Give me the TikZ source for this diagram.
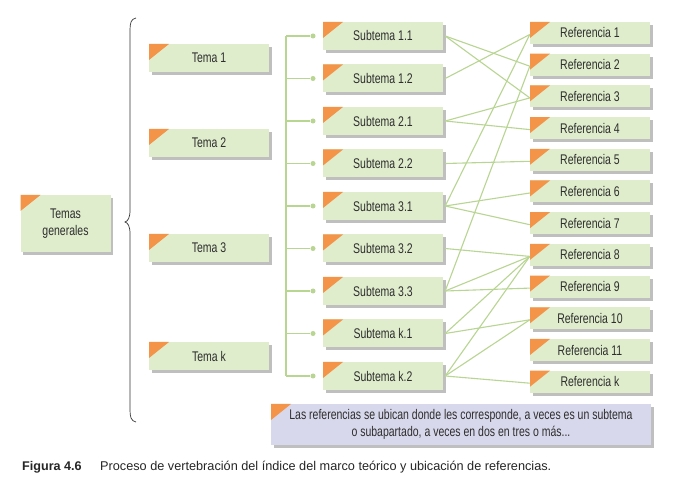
\documentclass[tikz,border=0pt]{standalone}
\usepackage{fontspec}
\setmainfont{Liberation Sans}[FakeStretch=0.75]
\newfontfamily\capfont{Liberation Sans}
\usetikzlibrary{shadows}
\definecolor{boxgreen}{HTML}{DFEDCC}
\definecolor{boxlav}{HTML}{D8D8EC}
\definecolor{tri}{HTML}{F39449}
\definecolor{lgreen}{HTML}{B9D592}
\definecolor{txt}{HTML}{2E2E2E}
\begin{document}
\begin{tikzpicture}[x=1pt,y=-1pt,
  every node/.style={text=txt, font=\fontsize{14}{15}\selectfont},
  card/.style={fill=boxgreen, inner sep=0pt, align=center,
    drop shadow={shadow xshift=2.5pt, shadow yshift=-3pt, fill=black, opacity=0.25},
    path picture={\fill[tri] (path picture bounding box.north west) -- ++(20pt,0pt) -- ++(-20pt,-16pt) -- cycle;}},
  tema/.style={card, minimum width=120pt, minimum height=28pt},
  sub/.style={card, minimum width=120pt, minimum height=28pt},
  refb/.style={card, minimum width=120pt, minimum height=22pt},
  link/.style={draw=lgreen, line width=1.3pt},
  conn/.style={draw=lgreen, line width=1.1pt},
  dot/.style={circle, fill=lgreen, inner sep=0pt, minimum size=5pt}]
\useasboundingbox (0,0) rectangle (680,502);
\fill[white] (0,0) rectangle (680,502);

% main node
\node[card, minimum width=90pt, minimum height=57pt, font=\fontsize{14}{17}\selectfont] (tg) at (65.5,223.5) {Temas\\generales};

% brace
\draw[black!80, line width=0.7pt] (136,18) .. controls (131,19) and (130,23) .. (130,30)
  -- (130,210) .. controls (130,218) and (128,221) .. (125,222)
  .. controls (128,223) and (130,226) .. (130,234)
  -- (130,410) .. controls (130,417) and (131,421) .. (136,422);

% temas
\node[tema] (t1) at (209,58) {Tema 1};
\node[tema] (t2) at (209,143) {Tema 2};
\node[tema] (t3) at (209,248) {Tema 3};
\node[tema] (tk) at (209,356) {Tema k};

% subtemas
\foreach \n/\lab [count=\i from 0] in {s11/Subtema 1.1, s12/Subtema 1.2, s21/Subtema 2.1, s22/Subtema 2.2, s31/Subtema 3.1, s32/Subtema 3.2, s33/Subtema 3.3, sk1/Subtema k.1, sk2/Subtema k.2}{
  \node[sub] (\n) at (383,{36+42.5*\i}) {\lab};
  \node[dot] (d\n) at (313,{36+42.5*\i}) {};
}
\coordinate (ttop) at (286,36);
\coordinate (tbot) at (286,376);
\draw[link] (ttop) -- (tbot);
\foreach \n in {s11,s12,s21,s22,s31,s32,s33,sk1,sk2}{
  \draw[link] (d\n) -- (d\n -| ttop);
}

% referencias
\foreach \n/\lab [count=\i from 0] in {r1/Referencia 1, r2/Referencia 2, r3/Referencia 3, r4/Referencia 4, r5/Referencia 5, r6/Referencia 6, r7/Referencia 7, r8/Referencia 8, r9/Referencia 9, r10/Referencia 10, r11/Referencia 11, rk/Referencia k}{
  \node[refb] (\n) at (590,{33+31.7*\i}) {\lab};
}

% connections
\foreach \a/\b in {s11/r2, s11/r3, s12/r1, s21/r3, s21/r4, s22/r5, s31/r1, s31/r6, s31/r7, s32/r8, s33/r2, s33/r8, s33/r9, sk1/r8, sk1/r10, sk2/r8, sk2/r10, sk2/rk}{
  \draw[conn] ([xshift=2pt]\a.east) -- ([yshift=-1.5pt]\b.west);
}

% note
\node[card, fill=boxlav, minimum width=380pt, minimum height=41pt, font=\fontsize{14}{17}\selectfont] (note) at (461,424.5)
  {Las referencias se ubican donde les corresponde, a veces es un subtema\\o subapartado, a veces en dos en tres o más...};

% caption
\node[anchor=base west, inner sep=0pt, font=\capfont\fontsize{12.6}{14}\selectfont\bfseries, text=black!85] (fig) at (22,470) {Figura 4.6};
\node[anchor=base west, inner sep=0pt, font=\capfont\fontsize{12.7}{14}\selectfont, text=black!85] (cap) at (100,470) {Proceso de vertebración del índice del marco teórico y ubicación de referencias.};
\end{tikzpicture}
\end{document}
